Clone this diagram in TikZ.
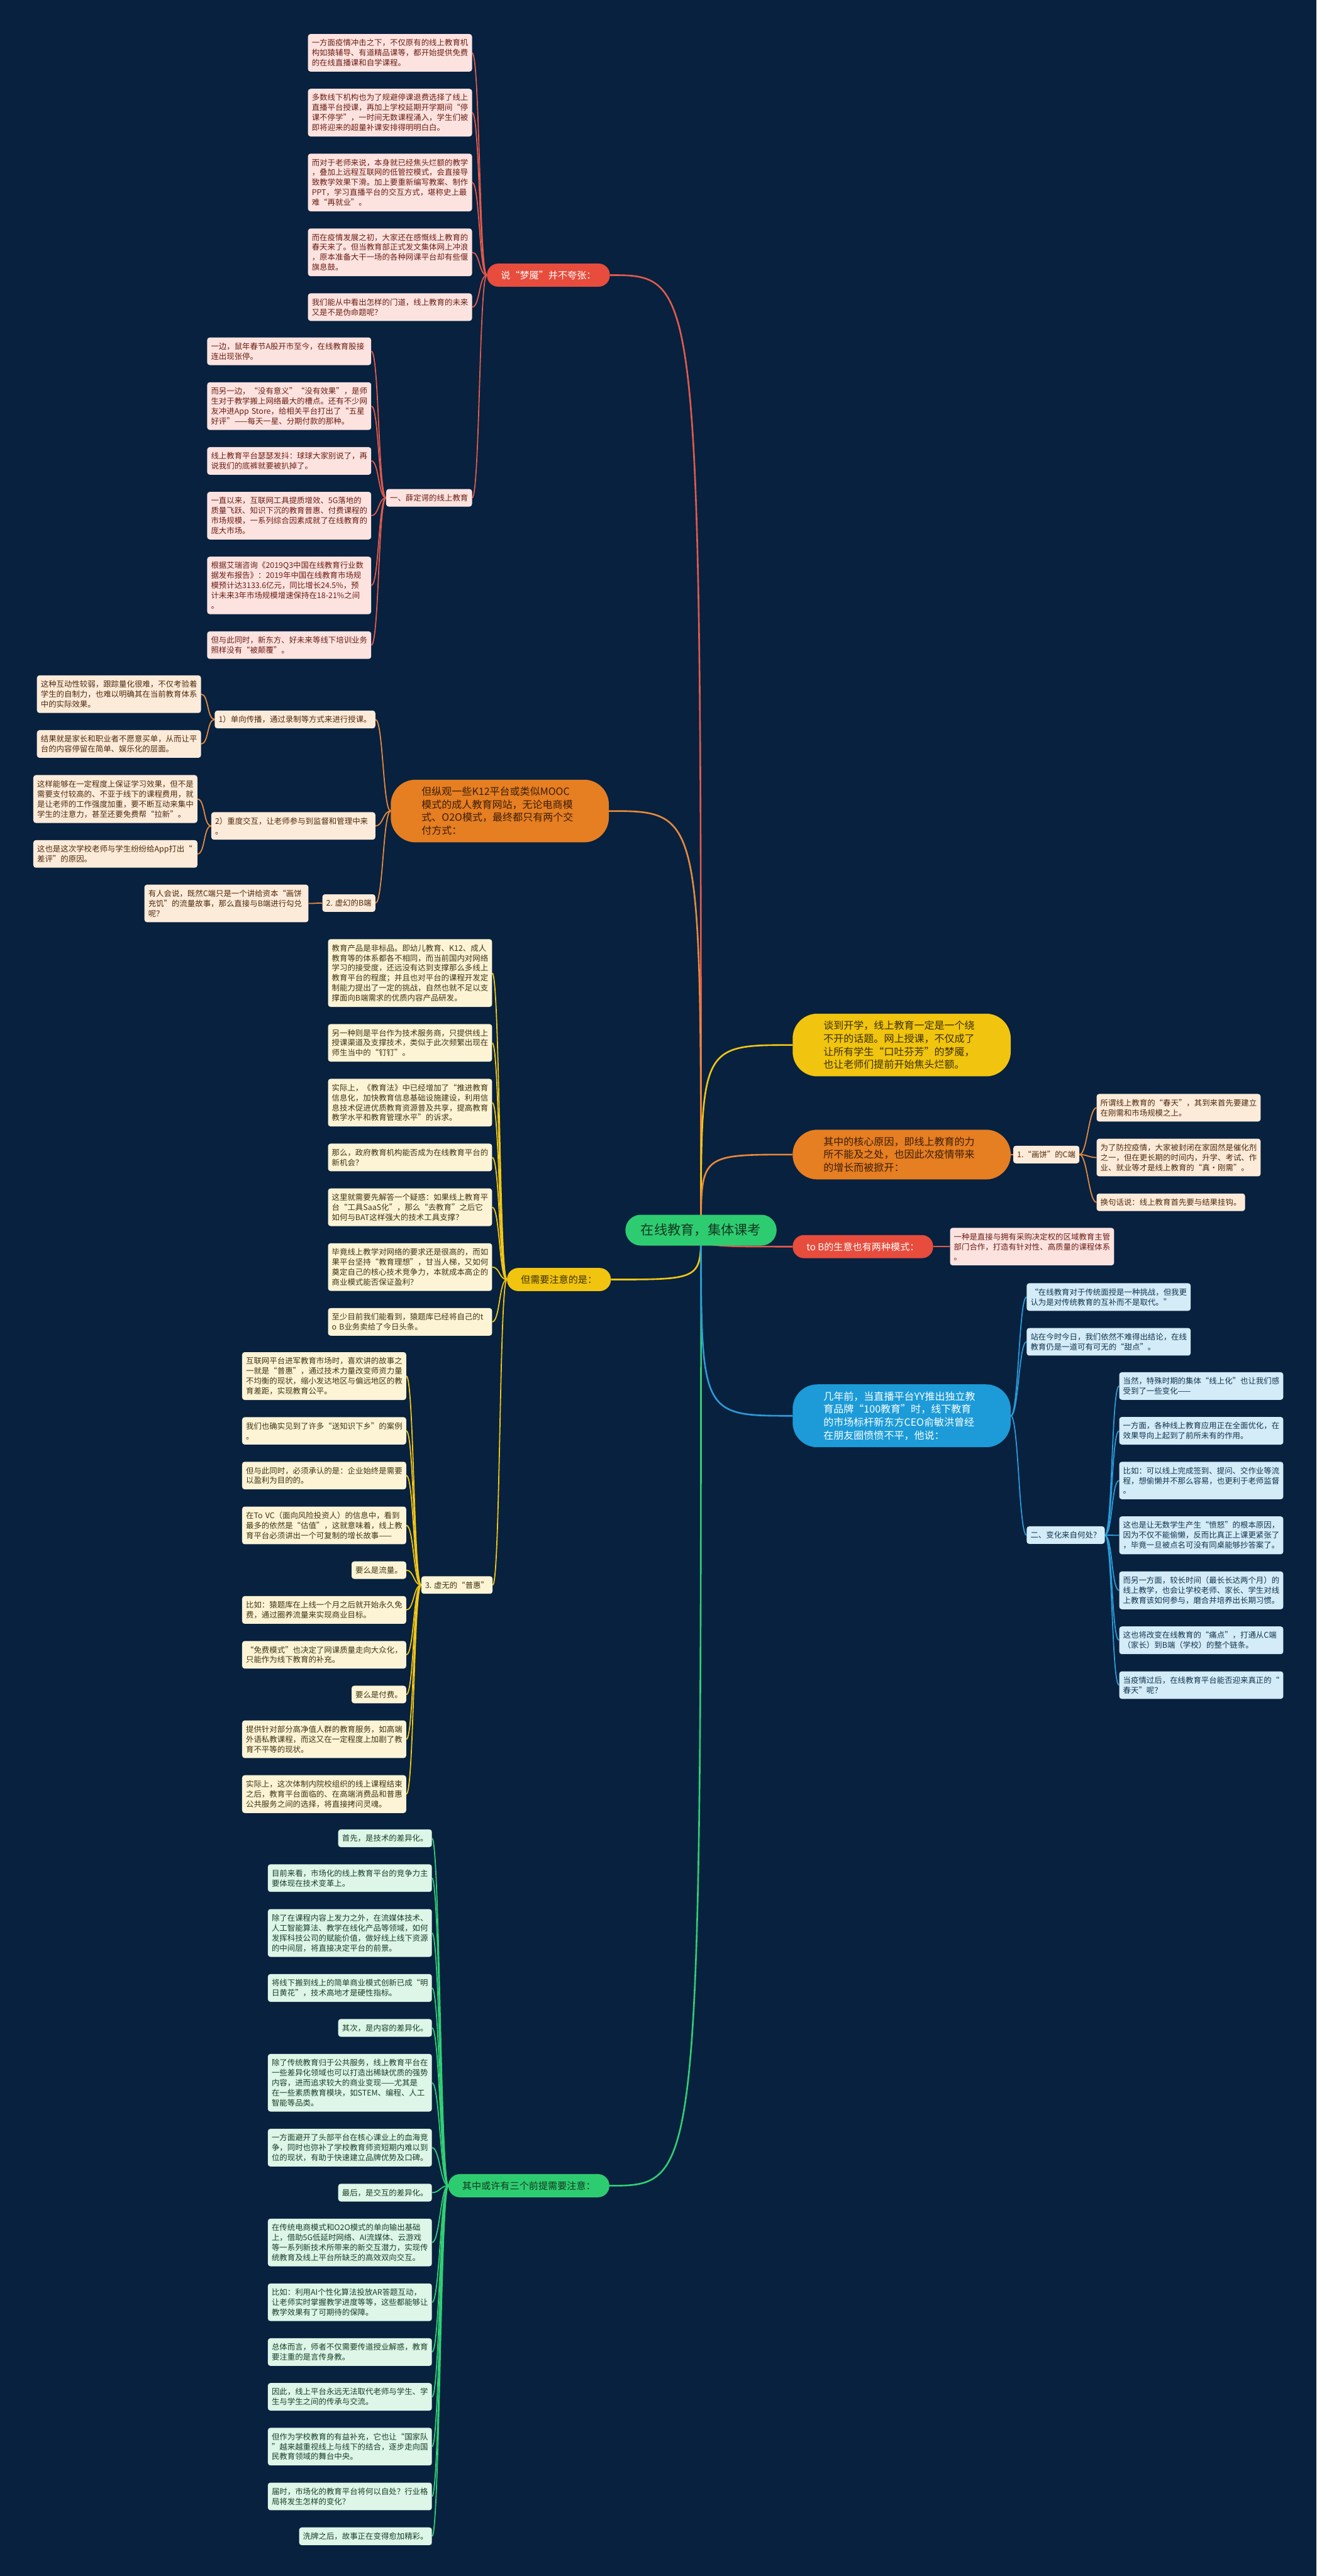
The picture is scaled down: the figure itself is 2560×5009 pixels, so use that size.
\documentclass[tikz,border=0pt]{standalone}
\usepackage{fontspec}
\setmainfont{Noto Sans CJK SC}
\usepackage{tikz}
\usetikzlibrary{positioning, backgrounds}

\definecolor{bgnavy}{HTML}{07213F}
\definecolor{redfill}{HTML}{E74C3C}
\definecolor{redln}{HTML}{E25A4A}
\definecolor{redbg}{HTML}{FDE3E0}
\definecolor{redtx}{HTML}{6B1D12}
\definecolor{orgfill}{HTML}{E67E22}
\definecolor{orgln}{HTML}{E8893B}
\definecolor{orgbg}{HTML}{FDEBD9}
\definecolor{orgtx}{HTML}{4D2A0E}
\definecolor{orgdark}{HTML}{3A1E06}
\definecolor{yelfill}{HTML}{F1C40F}
\definecolor{yelln}{HTML}{F2C614}
\definecolor{yelbg}{HTML}{FDF4D6}
\definecolor{yeltx}{HTML}{3F3512}
\definecolor{yeldark}{HTML}{3A3000}
\definecolor{grnfill}{HTML}{2ECC71}
\definecolor{grnln}{HTML}{30CF74}
\definecolor{grnbg}{HTML}{DDF6E7}
\definecolor{grntx}{HTML}{1A3F2A}
\definecolor{grndark}{HTML}{12391F}
\definecolor{blufill}{HTML}{1C9BD8}
\definecolor{bluln}{HTML}{2A9CD9}
\definecolor{blubg}{HTML}{D4ECF8}
\definecolor{blutx}{HTML}{11344E}

\tikzset{
	leaf/.style={rectangle, rounded corners=5pt, inner xsep=7.5pt, inner ysep=10pt,
		font=\fontsize{15.2}{19.5}\selectfont, align=left},
	wtext/.style={text width=304pt},
	rleaf/.style={leaf, fill=redbg, text=redtx},
	oleaf/.style={leaf, fill=orgbg, text=orgtx},
	yleaf/.style={leaf, fill=yelbg, text=yeltx},
	gleaf/.style={leaf, fill=grnbg, text=grntx},
	bleaf/.style={leaf, fill=blubg, text=blutx},
	branch/.style={rectangle, rounded corners=22pt, inner xsep=27pt, minimum height=45pt,
		font=\fontsize{18.5}{22}\selectfont},
	bigbranch/.style={rectangle, rounded corners=48pt, inner xsep=60pt, inner ysep=14pt,
		text width=304pt, align=left, font=\fontsize{19.6}{25.2}\selectfont},
	rootnode/.style={rectangle, rounded corners=30pt, fill=grnfill, text=grndark,
		inner xsep=30pt, minimum height=60pt, font=\fontsize{26}{30}\selectfont},
	mainln/.style={line width=3.2pt},
	subln/.style={line width=2.2pt},
	lft/.style={out=180, in=0, distance=15pt},
	rgt/.style={out=0, in=180, distance=15pt},
}

\begin{document}
\begin{tikzpicture}[x=1pt, y=-1pt]
	\useasboundingbox (0,0) rectangle (2560,5009);

	\node[rootnode] (root) at (1363,2392) {在线教育，集体课考};

	% red branch, top left
	\node[branch, fill=redfill, text=white, anchor=east] (nightmare) at (1186,535) {说“梦魇”并不夸张：};
	\node[rleaf, wtext, anchor=north east] (nightmare1) at (918,66) {一方面疫情冲击之下，不仅原有的线上教育机\\构如猿辅导、有道精品课等，都开始提供免费\\的在线直播课和自学课程。};
	\node[rleaf, wtext, below=33pt of nightmare1.south east, anchor=north east] (nightmare2) {多数线下机构也为了规避停课退费选择了线上\\直播平台授课，再加上学校延期开学期间“停\\课不停学”，一时间无数课程涌入，学生们被\\即将迎来的超量补课安排得明明白白。};
	\node[rleaf, wtext, below=33pt of nightmare2.south east, anchor=north east] (nightmare3) {而对于老师来说，本身就已经焦头烂额的教学\\，叠加上远程互联网的低管控模式，会直接导\\致教学效果下滑。加上要重新编写教案、制作\\PPT，学习直播平台的交互方式，堪称史上最\\难“再就业”。};
	\node[rleaf, wtext, below=33pt of nightmare3.south east, anchor=north east] (nightmare4) {而在疫情发展之初，大家还在感慨线上教育的\\春天来了。但当教育部正式发文集体网上冲浪\\，原本准备大干一场的各种网课平台却有些偃\\旗息鼓。};
	\node[rleaf, wtext, below=33pt of nightmare4.south east, anchor=north east] (nightmare5) {我们能从中看出怎样的门道，线上教育的未来\\又是不是伪命题呢？};
	\node[rleaf, anchor=east] (schrod) at (918,968) {一、薛定谔的线上教育};
	\node[rleaf, wtext, anchor=north east] (schrod1) at (722,656) {一边，鼠年春节A股开市至今，在线教育股接\\连出现张停。};
	\node[rleaf, wtext, below=33pt of schrod1.south east, anchor=north east] (schrod2) {而另一边，“没有意义”“没有效果”，是师\\生对于教学搬上网络最大的槽点。还有不少网\\友冲进App~Store，给相关平台打出了“五星\\好评”——每天一星、分期付款的那种。};
	\node[rleaf, wtext, below=33pt of schrod2.south east, anchor=north east] (schrod3) {线上教育平台瑟瑟发抖：球球大家别说了，再\\说我们的底裤就要被扒掉了。};
	\node[rleaf, wtext, below=33pt of schrod3.south east, anchor=north east] (schrod4) {一直以来，互联网工具提质增效、5G落地的\\质量飞跃、知识下沉的教育普惠、付费课程的\\市场规模，一系列综合因素成就了在线教育的\\庞大市场。};
	\node[rleaf, wtext, below=33pt of schrod4.south east, anchor=north east] (schrod5) {根据艾瑞咨询《2019Q3中国在线教育行业数\\据发布报告》：2019年中国在线教育市场规\\模预计达3133.6亿元，同比增长24.5\%，预\\计未来3年市场规模增速保持在18-21\%之间\\。};
	\node[rleaf, wtext, below=33pt of schrod5.south east, anchor=north east] (schrod6) {但与此同时，新东方、好未来等线下培训业务\\照样没有“被颠覆”。};

	% orange branch, left
	\node[bigbranch, fill=orgfill, text=orgdark, anchor=east] (delivery) at (1184,1577) {但纵观一些K12平台或类似MOOC\\模式的成人教育网站，无论电商模\\式、O2O模式，最终都只有两个交\\付方式：};
	\node[oleaf, anchor=east] (oneway) at (730,1399) {1）单向传播，通过录制等方式来进行授课。};
	\node[oleaf, wtext, anchor=north east] (oneway1) at (391,1313) {这种互动性较弱，跟踪量化很难，不仅考验着\\学生的自制力，也难以明确其在当前教育体系\\中的实际效果。};
	\node[oleaf, wtext, below=33pt of oneway1.south east, anchor=north east] (oneway2) {结果就是家长和职业者不愿意买单，从而让平\\台的内容停留在简单、娱乐化的层面。};
	\node[oleaf, wtext, anchor=east] (interact) at (730,1606) {2）重度交互，让老师参与到监督和管理中来\\。};
	\node[oleaf, wtext, anchor=north east] (interact1) at (384,1507) {这样能够在一定程度上保证学习效果，但不是\\需要支付较高的、不亚于线下的课程费用，就\\是让老师的工作强度加重，要不断互动来集中\\学生的注意力，甚至还要免费帮“拉新”。};
	\node[oleaf, wtext, below=33pt of interact1.south east, anchor=north east] (interact2) {这也是这次学校老师与学生纷纷给App打出“\\差评”的原因。};
	\node[oleaf, anchor=east] (bend) at (730,1756) {2. 虚幻的B端};
	\node[oleaf, wtext, anchor=north east] (bend1) at (600,1720) {有人会说，既然C端只是一个讲给资本“画饼\\充饥”的流量故事，那么直接与B端进行勾兑\\呢？};

	% yellow branch, left
	\node[branch, fill=yelfill, text=yeldark, anchor=east] (caution) at (1188,2488) {但需要注意的是：};
	\node[yleaf, wtext, anchor=north east] (caution1) at (957,1826) {教育产品是非标品。即幼儿教育、K12、成人\\教育等的体系都各不相同，而当前国内对网络\\学习的接受度，还远没有达到支撑那么多线上\\教育平台的程度；并且也对平台的课程开发定\\制能力提出了一定的挑战，自然也就不足以支\\撑面向B端需求的优质内容产品研发。};
	\node[yleaf, wtext, below=33pt of caution1.south east, anchor=north east] (caution2) {另一种则是平台作为技术服务商，只提供线上\\授课渠道及支撑技术，类似于此次频繁出现在\\师生当中的“钉钉”。};
	\node[yleaf, wtext, below=33pt of caution2.south east, anchor=north east] (caution3) {实际上，《教育法》中已经增加了“推进教育\\信息化，加快教育信息基础设施建设，利用信\\息技术促进优质教育资源普及共享，提高教育\\教学水平和教育管理水平”的诉求。};
	\node[yleaf, wtext, below=33pt of caution3.south east, anchor=north east] (caution4) {那么，政府教育机构能否成为在线教育平台的\\新机会？};
	\node[yleaf, wtext, below=33pt of caution4.south east, anchor=north east] (caution5) {这里就需要先解答一个疑惑：如果线上教育平\\台“工具SaaS化”，那么“去教育”之后它\\如何与BAT这样强大的技术工具支撑？};
	\node[yleaf, wtext, below=33pt of caution5.south east, anchor=north east] (caution6) {毕竟线上教学对网络的要求还是很高的，而如\\果平台坚持“教育理想”，甘当人梯，又如何\\奠定自己的核心技术竞争力，本就成本高企的\\商业模式能否保证盈利？};
	\node[yleaf, wtext, below=33pt of caution6.south east, anchor=north east] (caution7) {至少目前我们能看到，猿题库已经将自己的t\\o~B业务卖给了今日头条。};
	\node[yleaf, anchor=east] (puhui) at (958,3082) {3. 虚无的“普惠”};
	\node[yleaf, wtext, anchor=north east] (puhui1) at (790,2629) {互联网平台进军教育市场时，喜欢讲的故事之\\一就是“普惠”，通过技术力量改变师资力量\\不均衡的现状，缩小发达地区与偏远地区的教\\育差距，实现教育公平。};
	\node[yleaf, wtext, below=33pt of puhui1.south east, anchor=north east] (puhui2) {我们也确实见到了许多“送知识下乡”的案例\\。};
	\node[yleaf, wtext, below=33pt of puhui2.south east, anchor=north east] (puhui3) {但与此同时，必须承认的是：企业始终是需要\\以盈利为目的的。};
	\node[yleaf, wtext, below=33pt of puhui3.south east, anchor=north east] (puhui4) {在To~VC（面向风险投资人）的信息中，看到\\最多的依然是“估值”，这就意味着，线上教\\育平台必须讲出一个可复制的增长故事——};
	\node[yleaf, below=33pt of puhui4.south east, anchor=north east] (puhui5) {要么是流量。};
	\node[yleaf, wtext, below=33pt of puhui5.south east, anchor=north east] (puhui6) {比如：猿题库在上线一个月之后就开始永久免\\费，通过圈养流量来实现商业目标。};
	\node[yleaf, wtext, below=33pt of puhui6.south east, anchor=north east] (puhui7) {“免费模式”也决定了网课质量走向大众化，\\只能作为线下教育的补充。};
	\node[yleaf, below=33pt of puhui7.south east, anchor=north east] (puhui8) {要么是付费。};
	\node[yleaf, wtext, below=33pt of puhui8.south east, anchor=north east] (puhui9) {提供针对部分高净值人群的教育服务，如高端\\外语私教课程，而这又在一定程度上加剧了教\\育不平等的现状。};
	\node[yleaf, wtext, below=33pt of puhui9.south east, anchor=north east] (puhui10) {实际上，这次体制内院校组织的线上课程结束\\之后，教育平台面临的、在高端消费品和普惠\\公共服务之间的选择，将直接拷问灵魂。};

	% green branch, bottom left
	\node[branch, fill=grnfill, text=grndark, anchor=east] (premise) at (1185,4250) {其中或许有三个前提需要注意：};
	\node[gleaf, anchor=north east] (premise1) at (840,3557) {首先，是技术的差异化。};
	\node[gleaf, wtext, below=33pt of premise1.south east, anchor=north east] (premise2) {目前来看，市场化的线上教育平台的竞争力主\\要体现在技术变革上。};
	\node[gleaf, wtext, below=33pt of premise2.south east, anchor=north east] (premise3) {除了在课程内容上发力之外，在流媒体技术、\\人工智能算法、教学在线化产品等领域，如何\\发挥科技公司的赋能价值，做好线上线下资源\\的中间层，将直接决定平台的前景。};
	\node[gleaf, wtext, below=33pt of premise3.south east, anchor=north east] (premise4) {将线下搬到线上的简单商业模式创新已成“明\\日黄花”，技术高地才是硬性指标。};
	\node[gleaf, below=33pt of premise4.south east, anchor=north east] (premise5) {其次，是内容的差异化。};
	\node[gleaf, wtext, below=33pt of premise5.south east, anchor=north east] (premise6) {除了传统教育归于公共服务，线上教育平台在\\一些差异化领域也可以打造出稀缺优质的强势\\内容，进而追求较大的商业变现——尤其是\\在一些素质教育模块，如STEM、编程、人工\\智能等品类。};
	\node[gleaf, wtext, below=33pt of premise6.south east, anchor=north east] (premise7) {一方面避开了头部平台在核心课业上的血海竞\\争，同时也弥补了学校教育师资短期内难以到\\位的现状，有助于快速建立品牌优势及口碑。};
	\node[gleaf, below=33pt of premise7.south east, anchor=north east] (premise8) {最后，是交互的差异化。};
	\node[gleaf, wtext, below=33pt of premise8.south east, anchor=north east] (premise9) {在传统电商模式和O2O模式的单向输出基础\\上，借助5G低延时网络、AI流媒体、云游戏\\等一系列新技术所带来的新交互潜力，实现传\\统教育及线上平台所缺乏的高效双向交互。};
	\node[gleaf, wtext, below=33pt of premise9.south east, anchor=north east] (premise10) {比如：利用AI个性化算法投放AR答题互动，\\让老师实时掌握教学进度等等，这些都能够让\\教学效果有了可期待的保障。};
	\node[gleaf, wtext, below=33pt of premise10.south east, anchor=north east] (premise11) {总体而言，师者不仅需要传道授业解惑，教育\\要注重的是言传身教。};
	\node[gleaf, wtext, below=33pt of premise11.south east, anchor=north east] (premise12) {因此，线上平台永远无法取代老师与学生、学\\生与学生之间的传承与交流。};
	\node[gleaf, wtext, below=33pt of premise12.south east, anchor=north east] (premise13) {但作为学校教育的有益补充，它也让“国家队\\”越来越重视线上与线下的结合，逐步走向国\\民教育领域的舞台中央。};
	\node[gleaf, wtext, below=33pt of premise13.south east, anchor=north east] (premise14) {届时，市场化的教育平台将何以自处？行业格\\局将发生怎样的变化？};
	\node[gleaf, below=33pt of premise14.south east, anchor=north east] (premise15) {洗牌之后，故事正在变得愈加精彩。};

	% right side
	\node[bigbranch, fill=yelfill, text=yeldark, anchor=west] (topic) at (1541,2032) {谈到开学，线上教育一定是一个绕\\不开的话题。网上授课，不仅成了\\让所有学生“口吐芬芳”的梦魇，\\也让老师们提前开始焦头烂额。};
	\node[bigbranch, fill=orgfill, text=orgdark, anchor=west] (reason) at (1541,2245) {其中的核心原因，即线上教育的力\\所不能及之处，也因此次疫情带来\\的增长而被掀开：};
	\node[oleaf, anchor=west] (cend) at (1970,2245) {1.“画饼”的C端};
	\node[oleaf, wtext, anchor=north west] (cend1) at (2132,2127) {所谓线上教育的“春天”，其到来首先要建立\\在刚需和市场规模之上。};
	\node[oleaf, wtext, below=33pt of cend1.south west, anchor=north west] (cend2) {为了防控疫情，大家被封闭在家固然是催化剂\\之一，但在更长期的时间内，升学、考试、作\\业、就业等才是线上教育的“真·刚需”。};
	\node[oleaf, below=33pt of cend2.south west, anchor=north west] (cend3) {换句话说：线上教育首先要与结果挂钩。};
	\node[branch, fill=redfill, text=white, anchor=west] (tob) at (1541,2424) {to B的生意也有两种模式：};
	\node[rleaf, wtext, anchor=west] (tob1) at (1847,2424) {一种是直接与拥有采购决定权的区域教育主管\\部门合作，打造有针对性、高质量的课程体系\\。};
	\node[bigbranch, fill=blufill, text=white, anchor=west] (yy) at (1541,2753) {几年前，当直播平台YY推出独立教\\育品牌“100教育”时，线下教育\\的市场标杆新东方CEO俞敏洪曾经\\在朋友圈愤愤不平，他说：};
	\node[bleaf, wtext, anchor=north west] (yy1) at (1996,2495) {“在线教育对于传统面授是一种挑战，但我更\\认为是对传统教育的互补而不是取代。”};
	\node[bleaf, wtext, below=33pt of yy1.south west, anchor=north west] (yy2) {站在今时今日，我们依然不难得出结论，在线\\教育仍是一道可有可无的“甜点”。};
	\node[bleaf, anchor=west] (change) at (1996,2985) {二、变化来自何处？};
	\node[bleaf, wtext, anchor=north west] (change1) at (2176,2668) {当然，特殊时期的集体“线上化”也让我们感\\受到了一些变化——};
	\node[bleaf, wtext, below=33pt of change1.south west, anchor=north west] (change2) {一方面，各种线上教育应用正在全面优化，在\\效果导向上起到了前所未有的作用。};
	\node[bleaf, wtext, below=33pt of change2.south west, anchor=north west] (change3) {比如：可以线上完成签到、提问、交作业等流\\程，想偷懒并不那么容易，也更利于老师监督\\。};
	\node[bleaf, wtext, below=33pt of change3.south west, anchor=north west] (change4) {这也是让无数学生产生“愤怒”的根本原因，\\因为不仅不能偷懒，反而比真正上课更紧张了\\，毕竟一旦被点名可没有同桌能够抄答案了。};
	\node[bleaf, wtext, below=33pt of change4.south west, anchor=north west] (change5) {而另一方面，较长时间（最长长达两个月）的\\线上教学，也会让学校老师、家长、学生对线\\上教育该如何参与，磨合并培养出长期习惯。};
	\node[bleaf, wtext, below=33pt of change5.south west, anchor=north west] (change6) {这也将改变在线教育的“痛点”，打通从C端\\（家长）到B端（学校）的整个链条。};
	\node[bleaf, wtext, below=33pt of change6.south west, anchor=north west] (change7) {当疫情过后，在线教育平台能否迎来真正的“\\春天”呢？};

	\begin{pgfonlayer}{background}
		\fill[bgnavy] (0,0) rectangle (2560,5009);
		% from the root
		\draw[mainln, redln] (root.center) .. controls (root.center |- nightmare.east) .. (nightmare.east);
		\draw[mainln, orgln] (root.center) .. controls (root.center |- delivery.east) .. (delivery.east);
		\draw[mainln, yelln] (root.center) .. controls (root.center |- caution.east) .. (caution.east);
		\draw[mainln, grnln] (root.center) .. controls (root.center |- premise.east) .. (premise.east);
		\draw[mainln, yelln] (root.center) .. controls (root.center |- topic.west) .. (topic.west);
		\draw[mainln, orgln] (root.center) .. controls (root.center |- reason.west) .. (reason.west);
		\draw[mainln, redln] (root.center) .. controls (root.center |- tob.west) .. (tob.west);
		\draw[mainln, bluln] (root.center) .. controls (root.center |- yy.west) .. (yy.west);
		% red
		\draw[subln, redln] (nightmare.west) to[lft] (nightmare1.east);
		\draw[subln, redln] (nightmare.west) to[lft] (nightmare2.east);
		\draw[subln, redln] (nightmare.west) to[lft] (nightmare3.east);
		\draw[subln, redln] (nightmare.west) to[lft] (nightmare4.east);
		\draw[subln, redln] (nightmare.west) to[lft] (nightmare5.east);
		\draw[subln, redln] (nightmare.west) to[lft] (schrod.east);
		\draw[subln, redln] (schrod.west) to[lft] (schrod1.east);
		\draw[subln, redln] (schrod.west) to[lft] (schrod2.east);
		\draw[subln, redln] (schrod.west) to[lft] (schrod3.east);
		\draw[subln, redln] (schrod.west) to[lft] (schrod4.east);
		\draw[subln, redln] (schrod.west) to[lft] (schrod5.east);
		\draw[subln, redln] (schrod.west) to[lft] (schrod6.east);
		% orange
		\draw[subln, orgln] (delivery.west) to[lft] (oneway.east);
		\draw[subln, orgln] (delivery.west) to[lft] (interact.east);
		\draw[subln, orgln] (delivery.west) to[lft] (bend.east);
		\draw[subln, orgln] (oneway.west) to[lft] (oneway1.east);
		\draw[subln, orgln] (oneway.west) to[lft] (oneway2.east);
		\draw[subln, orgln] (interact.west) to[lft] (interact1.east);
		\draw[subln, orgln] (interact.west) to[lft] (interact2.east);
		\draw[subln, orgln] (bend.west) to[lft] (bend1.east);
		% yellow
		\draw[subln, yelln] (caution.west) to[lft] (caution1.east);
		\draw[subln, yelln] (caution.west) to[lft] (caution2.east);
		\draw[subln, yelln] (caution.west) to[lft] (caution3.east);
		\draw[subln, yelln] (caution.west) to[lft] (caution4.east);
		\draw[subln, yelln] (caution.west) to[lft] (caution5.east);
		\draw[subln, yelln] (caution.west) to[lft] (caution6.east);
		\draw[subln, yelln] (caution.west) to[lft] (caution7.east);
		\draw[subln, yelln] (caution.west) to[lft] (puhui.east);
		\draw[subln, yelln] (puhui.west) to[lft] (puhui1.east);
		\draw[subln, yelln] (puhui.west) to[lft] (puhui2.east);
		\draw[subln, yelln] (puhui.west) to[lft] (puhui3.east);
		\draw[subln, yelln] (puhui.west) to[lft] (puhui4.east);
		\draw[subln, yelln] (puhui.west) to[lft] (puhui5.east);
		\draw[subln, yelln] (puhui.west) to[lft] (puhui6.east);
		\draw[subln, yelln] (puhui.west) to[lft] (puhui7.east);
		\draw[subln, yelln] (puhui.west) to[lft] (puhui8.east);
		\draw[subln, yelln] (puhui.west) to[lft] (puhui9.east);
		\draw[subln, yelln] (puhui.west) to[lft] (puhui10.east);
		% green
		\draw[subln, grnln] (premise.west) to[lft] (premise1.east);
		\draw[subln, grnln] (premise.west) to[lft] (premise2.east);
		\draw[subln, grnln] (premise.west) to[lft] (premise3.east);
		\draw[subln, grnln] (premise.west) to[lft] (premise4.east);
		\draw[subln, grnln] (premise.west) to[lft] (premise5.east);
		\draw[subln, grnln] (premise.west) to[lft] (premise6.east);
		\draw[subln, grnln] (premise.west) to[lft] (premise7.east);
		\draw[subln, grnln] (premise.west) to[lft] (premise8.east);
		\draw[subln, grnln] (premise.west) to[lft] (premise9.east);
		\draw[subln, grnln] (premise.west) to[lft] (premise10.east);
		\draw[subln, grnln] (premise.west) to[lft] (premise11.east);
		\draw[subln, grnln] (premise.west) to[lft] (premise12.east);
		\draw[subln, grnln] (premise.west) to[lft] (premise13.east);
		\draw[subln, grnln] (premise.west) to[lft] (premise14.east);
		\draw[subln, grnln] (premise.west) to[lft] (premise15.east);
		% right side
		\draw[subln, orgln] (reason.east) to[rgt] (cend.west);
		\draw[subln, orgln] (cend.east) to[rgt] (cend1.west);
		\draw[subln, orgln] (cend.east) to[rgt] (cend2.west);
		\draw[subln, orgln] (cend.east) to[rgt] (cend3.west);
		\draw[subln, redln] (tob.east) to[rgt] (tob1.west);
		\draw[subln, bluln] (yy.east) to[rgt] (yy1.west);
		\draw[subln, bluln] (yy.east) to[rgt] (yy2.west);
		\draw[subln, bluln] (yy.east) to[rgt] (change.west);
		\draw[subln, bluln] (change.east) to[rgt] (change1.west);
		\draw[subln, bluln] (change.east) to[rgt] (change2.west);
		\draw[subln, bluln] (change.east) to[rgt] (change3.west);
		\draw[subln, bluln] (change.east) to[rgt] (change4.west);
		\draw[subln, bluln] (change.east) to[rgt] (change5.west);
		\draw[subln, bluln] (change.east) to[rgt] (change6.west);
		\draw[subln, bluln] (change.east) to[rgt] (change7.west);
	\end{pgfonlayer}
\end{tikzpicture}
\end{document}
